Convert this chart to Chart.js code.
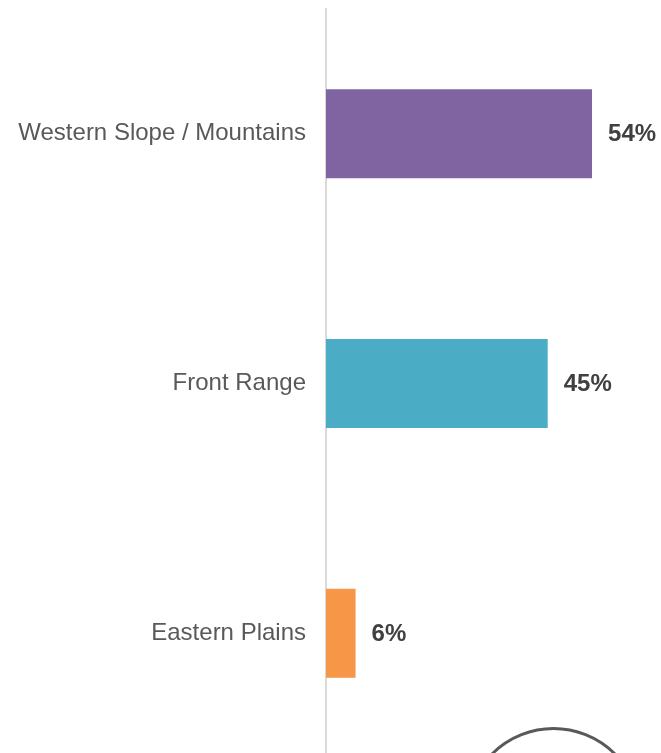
<!DOCTYPE html>
<html>
<head>
<meta charset="utf-8">
<title>Region</title>
<script src="https://cdn.jsdelivr.net/npm/chart.js@4.4.1/dist/chart.umd.min.js"></script>
<style>
    html, body { margin: 0; padding: 0; background: #fff; overflow: hidden; }
    body { width: 661px; height: 753px; position: relative; }
    #wrap { position: absolute; left: 0; top: 0; width: 661px; height: 758px; }
    /* round badge cut off at the bottom of the slide */
    .badge { position: absolute; left: 465px; top: 727px; width: 177px; height: 177px;
             box-sizing: border-box; border: 3px solid #595959; border-radius: 50%; }
</style>
</head>
<body>
<div id="wrap"><canvas id="regionChart"></canvas></div>
<div class="badge"></div>
<script>
const categories = ['Western Slope / Mountains', 'Front Range', 'Eastern Plains'];
const values = [54, 45, 6];
const barColors = ['#8064A2', '#4BACC6', '#F79646'];

(function() {
    // draws "54%" etc. just right of each bar
    const valueLabels = {
        id: 'valueLabels',
        afterDatasetsDraw(chart) {
            const ctx = chart.ctx;
            const meta = chart.getDatasetMeta(0);
            ctx.save();
            ctx.font = 'bold 24px "Liberation Sans", Arial, sans-serif';
            ctx.fillStyle = '#404040';
            ctx.textAlign = 'left';
            ctx.textBaseline = 'middle';
            meta.data.forEach((bar, i) => {
                ctx.fillText(values[i] + '%', bar.x + 16, bar.y + 1);
            });
            ctx.restore();
        }
    };

    function initChart() {
        const ctx = document.getElementById('regionChart').getContext('2d');
        new Chart(ctx, {
            type: 'bar',
            data: {
                labels: categories,
                datasets: [{ data: values, backgroundColor: barColors, borderWidth: 0,
                             categoryPercentage: 1, barPercentage: 0.3565 }]
            },
            options: {
                indexAxis: 'y',
                responsive: true, maintainAspectRatio: false,
                animation: false,
                layout: { padding: { top: 9, right: 0, bottom: 0, left: 0 } },
                plugins: { legend: { display: false }, tooltip: { enabled: false } },
                scales: {
                    x: { display: false, min: 0, max: 68 },
                    y: {
                        grid: { display: false, drawTicks: false },
                        border: { display: true, color: '#d9d9d9', width: 2 },
                        ticks: { color: '#595959', padding: 20,
                                 font: { family: '"Liberation Sans", Arial, sans-serif', size: 24 } },
                        afterFit(scale) {
                            scale.width = 326;
                            scale.paddingTop = 0;
                            scale.paddingBottom = 0;
                        }
                    }
                }
            },
            plugins: [valueLabels]
        });
    }

    initChart();
})();
</script>
</body>
</html>
